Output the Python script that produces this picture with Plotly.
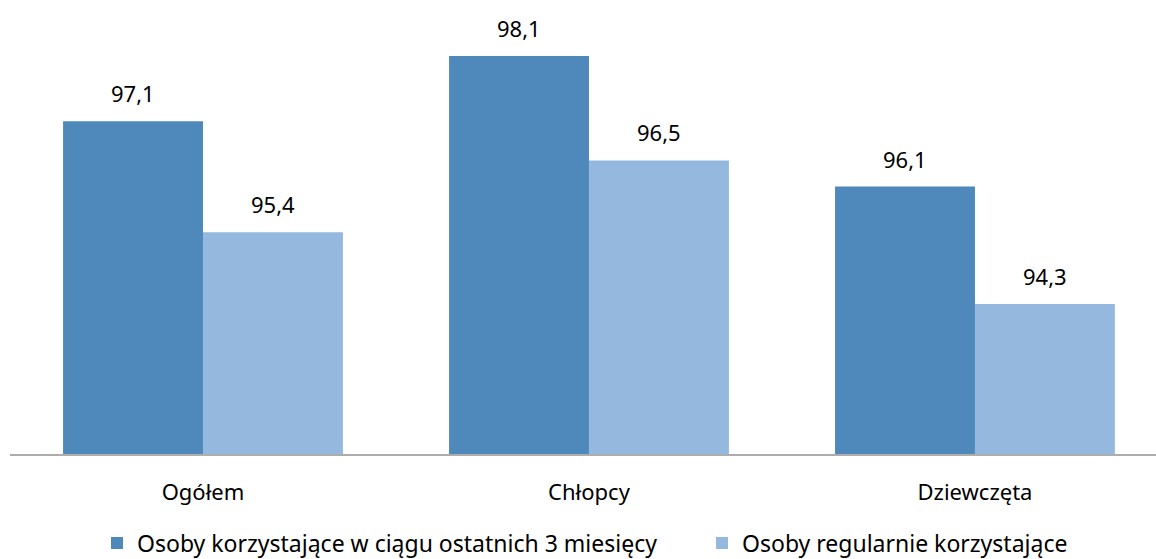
import plotly.graph_objects as go

categories = ["Ogółem", "Chłopcy", "Dziewczęta"]
series_names = ["Osoby korzystające w ciągu ostatnich 3 miesięcy", "Osoby regularnie korzystające"]
last_3_months = [97.1, 98.1, 96.1]
regular = [95.4, 96.5, 94.3]
colors = ["#4F88BB", "#95B8DF"]

FONT = "Noto Sans"
FS = 22
W, H = 1156, 559

fig = go.Figure()
legends = ["legend", "legend2"]
for name, vals, col, lg in zip(series_names, [last_3_months, regular], colors, legends):
    fig.add_trace(go.Bar(
        x=categories, y=vals, name=name, marker_color=col,
        marker_line_width=0, legend=lg,
    ))

# value labels above each bar
for i, vals in enumerate([last_3_months, regular]):
    for j, v in enumerate(vals):
        fig.add_annotation(
            x=j + (-0.1815 if i == 0 else 0.1815), y=v, xref="x", yref="y",
            text=f"{v:.1f}".replace(".", ","), showarrow=False,
            yanchor="bottom", yshift=11,
            font=dict(family=FONT, size=FS, color="#000000"),
        )

legend_style = dict(
    orientation="h", xref="container", yref="container",
    xanchor="left", yanchor="middle", y=1 - 543 / H,
    font=dict(family=FONT, size=23, color="#000000"),
    itemwidth=30, bgcolor="rgba(0,0,0,0)",
)

fig.update_layout(
    width=W, height=H,
    margin=dict(l=10, r=0, t=0, b=105),
    paper_bgcolor="white", plot_bgcolor="white",
    barmode="group", bargap=0.275, bargroupgap=0,
    showlegend=True,
    legend=dict(legend_style, x=97 / W),
    legend2=dict(legend_style, x=702 / W),
    font=dict(family=FONT, size=FS, color="#000000"),
)
fig.update_xaxes(
    type="category", range=[-0.5, 2.469],
    showline=True, linecolor="#ADADAD", linewidth=2,
    ticks="", showgrid=False, ticklabelstandoff=18,
    tickfont=dict(family=FONT, size=FS, color="#000000"),
)
fig.update_yaxes(
    range=[92, 98.96], showgrid=False, zeroline=False, showticklabels=False,
    showline=False, ticks="",
)

fig.write_html("out.html")
